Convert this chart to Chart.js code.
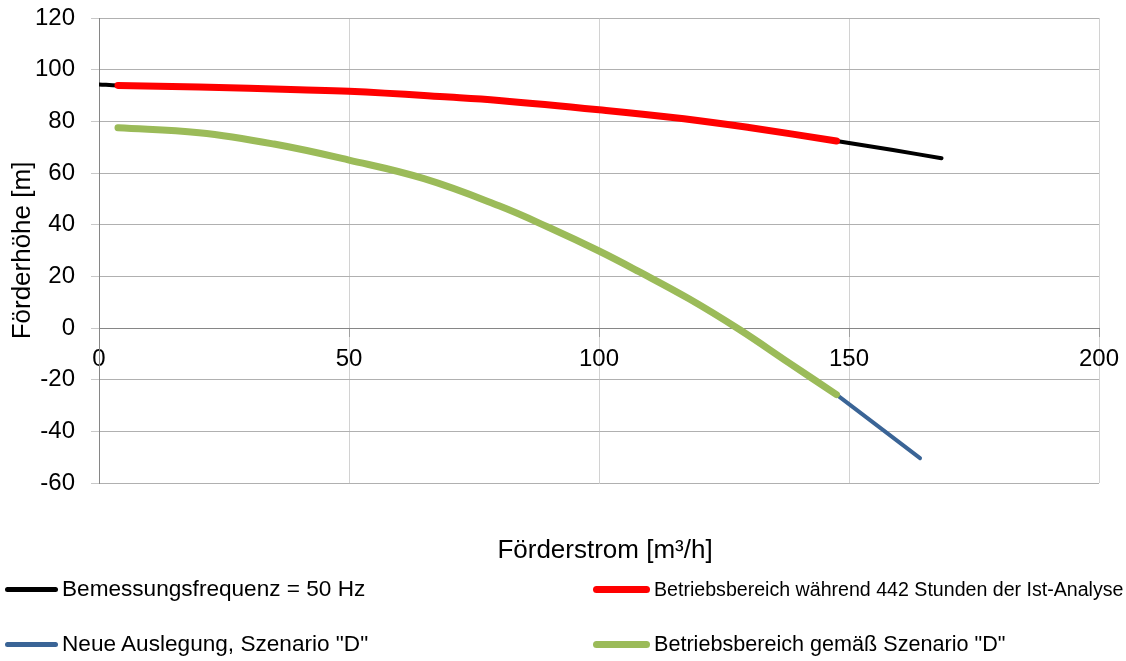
<!DOCTYPE html>
<html>
<head>
<meta charset="utf-8">
<script src="https://cdn.jsdelivr.net/npm/chart.js@4.4.1/dist/chart.umd.min.js"></script>
<style>
  body { margin: 0; background: #fff; font-family: "Liberation Sans", Arial, sans-serif; }
  #wrap { position: relative; width: 1126px; height: 661px; }
  #pumpChart { position: absolute; left: 0; top: 0; }
  #xTitle { position: absolute; top: 534px; left: 0; width: 1210px; line-height: 30px; text-align: center; font-size: 26px; color: #000; }
  .leg { position: absolute; display: flex; align-items: center; white-space: nowrap; color: #000; }
  .leg .sw { display: inline-block; border-radius: 4px; margin-right: 4px; }
</style>
</head>
<body>
<div id="wrap">
  <canvas id="pumpChart" width="1126" height="661"></canvas>
  <div id="xTitle">Förderstrom [m³/h]</div>
  <div id="legend"></div>
</div>
<script>
/* ===== Daten ===== */
const X_MIN = 0, X_MAX = 200, X_STEP = 50;
const Y_MIN = -60, Y_MAX = 120, Y_STEP = 20;

const labels = [
  "Bemessungsfrequenz = 50 Hz",
  "Betriebsbereich während 442 Stunden der Ist-Analyse",
  "Neue Auslegung, Szenario \"D\"",
  "Betriebsbereich gemäß Szenario \"D\""
];

// Kennlinie 50 Hz
const q50 = [0, 3.8, 20, 40, 50, 70, 80, 100, 117, 130, 147.5, 158.8, 168.5];
const h50 = [94.3, 93.9, 93.3, 92.2, 91.6, 89.4, 88.1, 84.5, 81.0, 77.6, 72.4, 68.9, 65.7];

// Betriebsbereich Ist-Analyse
const qIst = [3.8, 20, 40, 50, 70, 80, 100, 117, 130, 147.5];
const hIst = [93.9, 93.3, 92.2, 91.6, 89.4, 88.1, 84.5, 81.0, 77.6, 72.4];

// Neue Auslegung D (Rest nach Betriebsbereich)
const qNeu = [147.5, 155, 164.2];
const hNeu = [-25.8, -36.8, -50.4];

// Betriebsbereich Szenario D
const qD = [3.8, 20, 35, 50, 65, 80, 90, 100, 108, 118, 128, 138, 147.5];
const hD = [77.5, 75.6, 71.2, 65.0, 57.8, 47.3, 38.9, 29.8, 21.8, 11.3, -0.5, -13.5, -25.8];

const colors = ["#000000", "#ff0000", "#3a6496", "#9bbb59"];
const widths = [4, 7, 4, 7];

/* ===== Hilfsfunktionen ===== */
function pts(xs, ys) {
  return xs.map((x, i) => ({ x, y: ys[i] }));
}

const series = [pts(q50, h50), pts(qIst, hIst), pts(qNeu, hNeu), pts(qD, hD)];
const drawOrder = [4, 3, 2, 1]; // niedrig = oben

const datasets = series.map((data, i) => ({
  label: labels[i],
  data,
  borderColor: colors[i],
  backgroundColor: colors[i],
  borderWidth: widths[i],
  borderCapStyle: "round",
  borderJoinStyle: "round",
  pointRadius: 0,
  tension: 0.4,
  fill: false,
  order: drawOrder[i],
}));

/* ===== Diagramm ===== */
const tickFont = { family: "'Liberation Sans', Arial, sans-serif", size: 24 };
const titleFont = { family: "'Liberation Sans', Arial, sans-serif", size: 26 };

new Chart(document.getElementById("pumpChart"), {
  type: "line",
  data: { datasets },
  options: {
    responsive: false,
    animation: false,
    layout: { padding: { top: 18, right: 27, bottom: 178, left: 0 } },
    plugins: { legend: { display: false }, tooltip: { enabled: false } },
    scales: {
      x: {
        type: "linear",
        position: { y: 0 },
        min: X_MIN, max: X_MAX,
        afterFit: s => { s.paddingLeft = 0; s.paddingRight = 0; },
        ticks: { stepSize: X_STEP, color: "#000", font: tickFont, padding: 9, maxRotation: 0 },
        grid: { color: "#d2d2d2", tickColor: "#a0a0a0", tickLength: 8 },
        border: { color: "#868686", width: 1 },
      },
      y: {
        min: Y_MIN, max: Y_MAX,
        afterFit: s => { s.width = 99; s.paddingTop = 12; s.paddingBottom = 12; },
        ticks: { stepSize: Y_STEP, color: "#000", font: tickFont, padding: 16 },
        grid: {
          color: c => c.tick && c.tick.value === 0 ? "#868686" : "#b0b0b0",
          tickColor: "#c8c8c8",
          tickLength: 8,
        },
        border: { color: "#868686", width: 1 },
        title: {
          display: true,
          text: "Förderhöhe [m]",
          color: "#000",
          font: titleFont,
          padding: { top: 7, bottom: 0 },
        },
      },
    },
  },
});

/* ===== Legende ===== */
const legPos = [
  { left: 5, top: 589, sw: 53, th: 5, fs: 22.6 },
  { left: 593, top: 589, sw: 57, th: 7, fs: 19.6 },
  { left: 5, top: 644, sw: 53, th: 5, fs: 22.6 },
  { left: 593, top: 644, sw: 57, th: 7, fs: 21.6 },
];
document.getElementById("legend").innerHTML = labels.map((l, i) => {
  const p = legPos[i];
  return `<div class="leg" style="left:${p.left}px;top:${p.top - 14}px;height:28px;font-size:${p.fs}px">
    <span class="sw" style="width:${p.sw}px;height:${p.th}px;background:${colors[i]}"></span>${l}</div>`;
}).join("");
</script>
</body>
</html>
